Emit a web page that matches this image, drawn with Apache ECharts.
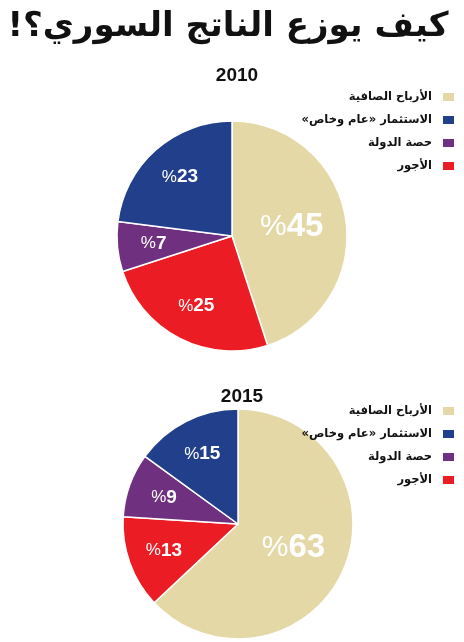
<!DOCTYPE html>
<html>
<head>
<meta charset="utf-8">
<script src="https://cdn.jsdelivr.net/npm/echarts@6/dist/echarts.min.js"></script>
<style>
  html, body { margin: 0; padding: 0; background: #fff; }
  #chart { width: 464px; height: 642px; direction: rtl; }
</style>
</head>
<body>
<div id="chart"></div>
<script>
const chartDom = document.getElementById("chart");
let myChart = echarts.init(chartDom);

// legend order
const names = ["الأرباح الصافية", "الاستثمار «عام وخاص»", "حصة الدولة", "الأجور"];
const colors = ["#e4d8a6", "#213f8b", "#6f317f", "#ec1c24"];
const values2010 = [45, 23, 7, 25];
const values2015 = [63, 15, 9, 13];
// slices go clockwise from the top in this order
const pieOrder = [0, 3, 2, 1];

const years = ["2010", "2015"];

const numFont = "Liberation Sans";

function pieData(values) {
  return pieOrder.map((i) => ({
    name: names[i],
    value: values[i],
    itemStyle: { color: colors[i] },
    label: {
      rich: values[i] > 40
        ? { p: { fontSize: 30, fontWeight: "normal", color: "#fff", fontFamily: numFont },
            n: { fontSize: 33, fontWeight: "bold", color: "#fff", fontFamily: numFont } }
        : { p: { fontSize: 17, fontWeight: "normal", color: "#fff", fontFamily: numFont },
            n: { fontSize: 19, fontWeight: "bold", color: "#fff", fontFamily: numFont } }
    }
  }));
}

function legendFor(top) {
  return {
    orient: "vertical",
    right: 3,
    top: top,
    align: "right",
    itemWidth: 13,
    itemHeight: 10,
    itemGap: 11,
    icon: "rect",
    data: names,
    selectedMode: false,
    textStyle: {
      fontSize: 11.5, fontWeight: "bold", color: "#111", fontFamily: "DejaVu Sans",
      padding: [0, 5, 0, 0]
    }
  };
}

function pieSeries(values, center) {
  return {
    type: "pie",
    center: center,
    radius: 115,
    startAngle: 90,
    clockwise: true,
    silent: true,
    animation: false,
    itemStyle: { borderColor: "#fff", borderWidth: 1.5 },
    label: {
      position: "inside",
      formatter: (p) => "{p|%}{n|" + p.value + "}"
    },
    // small slices: push the label a bit further out from the centre
    labelLayout: (params) => {
      const v = values[pieOrder[params.dataIndex]];
      if (v > 40) return {};
      const r = params.labelRect;
      const k = 0.3;
      return {
        dx: (r.x + r.width / 2 - center[0]) * k,
        dy: (r.y + r.height / 2 - center[1]) * k
      };
    },
    labelLine: { show: false },
    data: pieData(values)
  };
}

let option = {
  backgroundColor: "#fff",
  title: [
    {
      text: "كيف يوزع الناتج السوري؟!",
      left: 223,
      textAlign: "center",
      top: 5,
      textStyle: { fontSize: 34, fontWeight: 900, color: "#111", fontFamily: "DejaVu Sans" }
    },
    {
      text: years[0],
      left: 232,
      textAlign: "center",
      top: 61,
      textStyle: { fontSize: 19, fontWeight: "bold", color: "#111", fontFamily: numFont }
    },
    {
      text: years[1],
      left: 237,
      textAlign: "center",
      top: 382,
      textStyle: { fontSize: 19, fontWeight: "bold", color: "#111", fontFamily: numFont }
    }
  ],
  legend: [legendFor(86), legendFor(400)],
  series: [
    pieSeries(values2010, [232, 236]),
    pieSeries(values2015, [238, 524])
  ]
};

option && myChart.setOption(option);
</script>
</body>
</html>
